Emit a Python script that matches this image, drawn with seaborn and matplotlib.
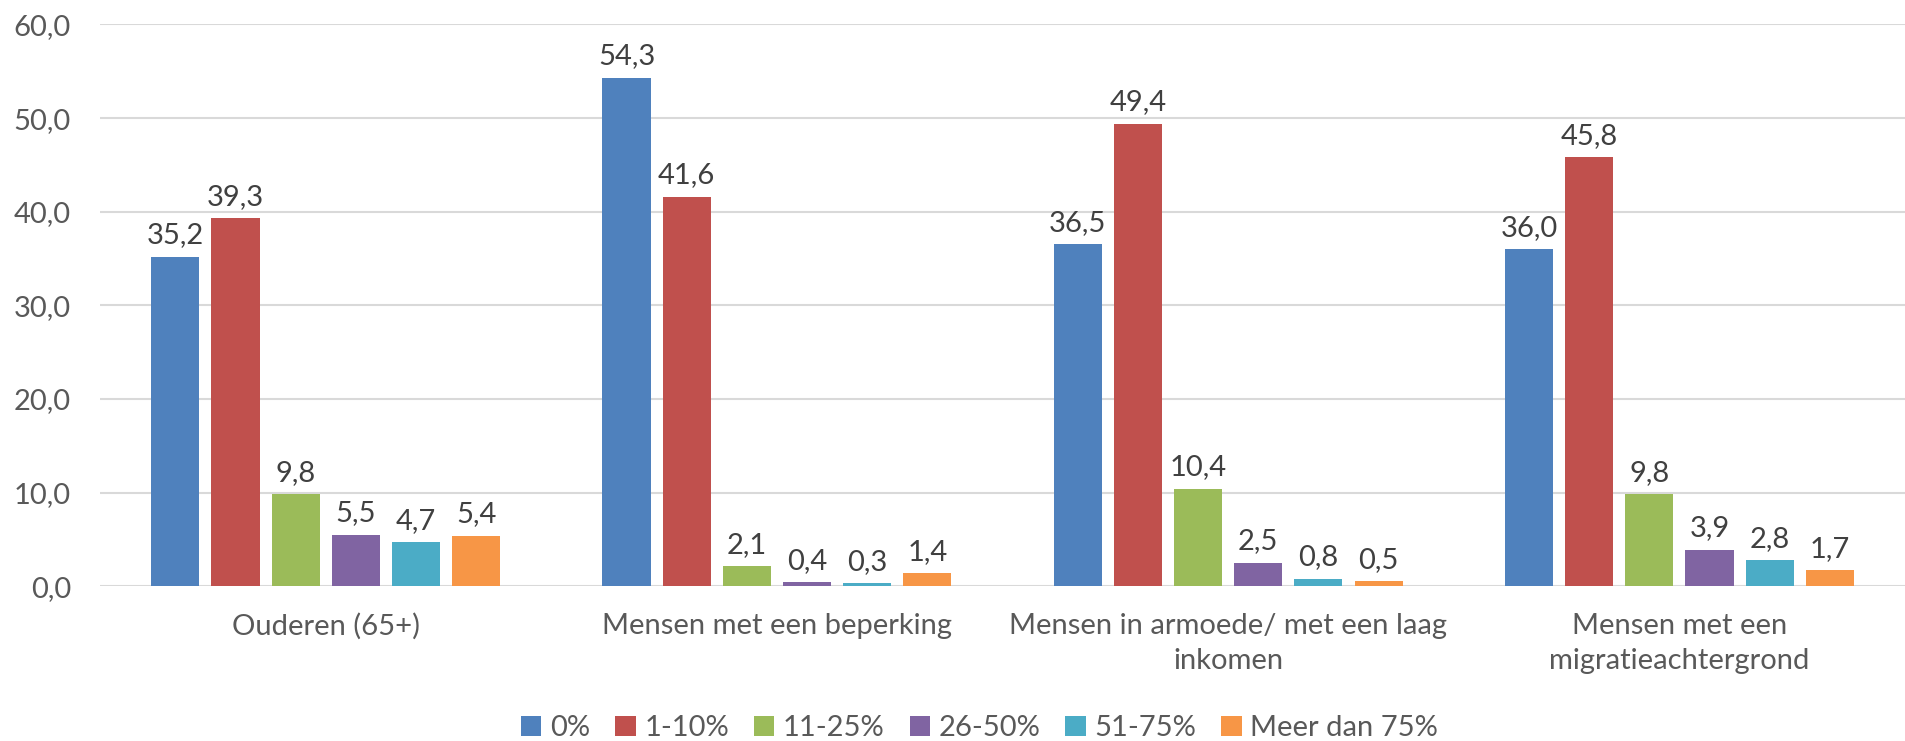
import numpy as np
import pandas as pd
import matplotlib
matplotlib.use("Agg")
import matplotlib.pyplot as plt
import seaborn as sns
from matplotlib.ticker import FuncFormatter
from matplotlib.patches import Patch

# Data
groups = [
    "Ouderen (65+)",
    "Mensen met een beperking",
    "Mensen in armoede/ met een laag\ninkomen",
    "Mensen met een\nmigratieachtergrond",
]
shares = ["0%", "1-10%", "11-25%", "26-50%", "51-75%", "Meer dan 75%"]
share_0 = [35.2, 54.3, 36.5, 36.0]
share_1_10 = [39.3, 41.6, 49.4, 45.8]
share_11_25 = [9.8, 2.1, 10.4, 9.8]
share_26_50 = [5.5, 0.4, 2.5, 3.9]
share_51_75 = [4.7, 0.3, 0.8, 2.8]
share_75_plus = [5.4, 1.4, 0.5, 1.7]

colors = ["#4F81BD", "#C0504D", "#9BBB59", "#8064A2", "#4BACC6", "#F79646"]

series = [share_0, share_1_10, share_11_25, share_26_50, share_51_75, share_75_plus]
rows = []
for share, vals in zip(shares, series):
    for g, v in zip(groups, vals):
        rows.append({"groep": g, "aandeel": share, "waarde": v})
df = pd.DataFrame(rows)

sns.set_theme(style="white")
plt.rcParams["font.family"] = ["Lato", "DejaVu Sans"]

fig = plt.figure(figsize=(19.06, 7.41), dpi=100)
ax = fig.add_axes([0.0525, 0.209, 0.947, 0.758])

sns.barplot(
    data=df, x="groep", y="waarde", hue="aandeel",
    order=groups, hue_order=shares, palette=colors, saturation=1,
    width=0.8, gap=0.2, linewidth=0, errorbar=None, ax=ax, legend=False,
)

FS = 21
ax.set_ylim(0, 60)
ax.set_xlim(-0.5, len(groups) - 0.5)
ax.set_yticks(np.arange(0, 61, 10))
ax.yaxis.set_major_formatter(FuncFormatter(lambda v, p: f"{v:.1f}".replace(".", ",")))
ax.grid(axis="y", color="#D9D9D9", linewidth=1.5)
ax.set_axisbelow(True)
for s in ax.spines.values():
    s.set_visible(False)
ax.set_xlabel("")
ax.set_ylabel("")
ax.tick_params(axis="y", length=0, pad=21, labelsize=FS, labelcolor="#595959")
ax.tick_params(axis="x", length=0, pad=19, labelsize=FS, labelcolor="#595959")
for lbl in ax.get_xticklabels():
    lbl.set_linespacing(1.45)

for cont in ax.containers:
    ax.bar_label(
        cont,
        labels=[f"{b.get_height():.1f}".replace(".", ",") for b in cont],
        padding=6, fontsize=FS, color="#404040",
    )

handles = [Patch(facecolor=c, edgecolor="none") for c in colors]
fig.legend(
    handles, shares, loc="center", bbox_to_anchor=(0.514, 0.017), ncol=6,
    frameon=False, fontsize=FS, labelcolor="#595959",
    handlelength=0.7, handleheight=0.7, handletextpad=0.3, columnspacing=0.85,
)

fig.savefig("out.png", dpi=100)
